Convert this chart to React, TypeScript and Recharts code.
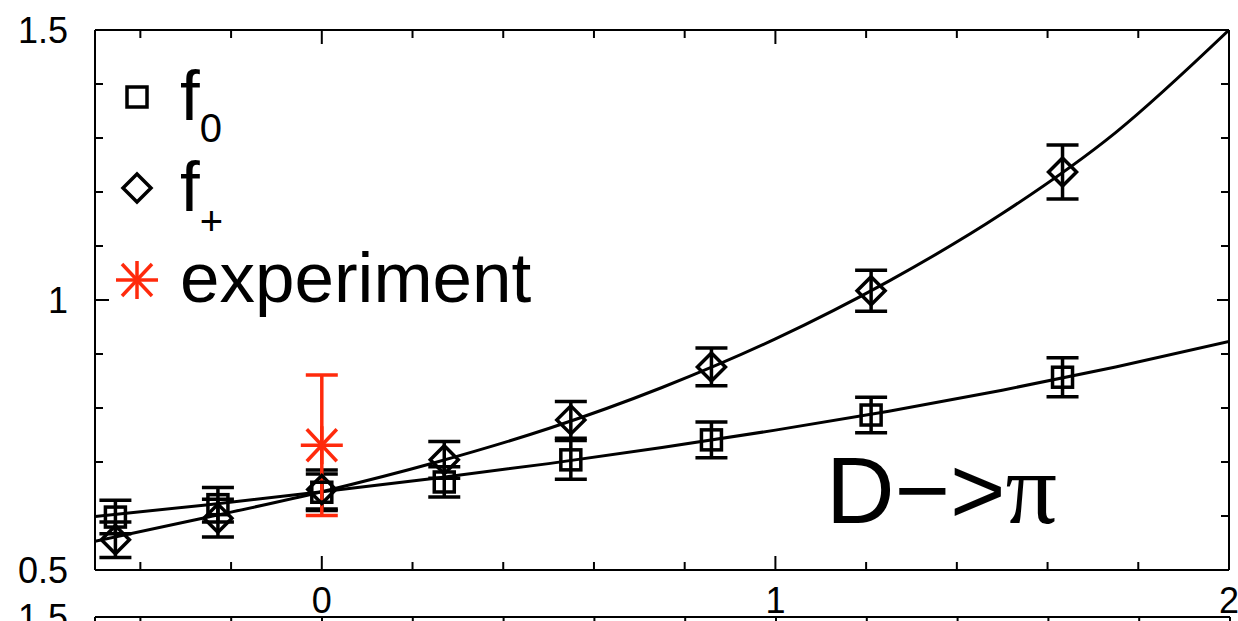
import React from 'react';
import { ComposedChart, Line, Scatter, XAxis, YAxis, ErrorBar, Legend } from 'recharts';

// lattice points (q^2 in GeV^2)
const qSquared = [-0.455, -0.229, 0.0, 0.27, 0.549, 0.859, 1.211, 1.633];
const f0Values = [0.598, 0.621, 0.644, 0.663, 0.704, 0.741, 0.787, 0.857];
const f0Errors = [0.031, 0.032, 0.034, 0.028, 0.036, 0.033, 0.033, 0.036];
const fPlusValues = [0.556, 0.596, 0.649, 0.704, 0.778, 0.876, 1.017, 1.237];
const fPlusErrors = [0.033, 0.035, 0.036, 0.034, 0.034, 0.035, 0.038, 0.05];

// experiment
const expQ = [0.0];
const expValues = [0.731];
const expErrors = [0.13];

// fit curves
const fitQ = [-0.5, -0.25, 0, 0.25, 0.5, 0.75, 1, 1.25, 1.5, 1.75, 2];
const f0Fit = [0.599, 0.621, 0.645, 0.67, 0.697, 0.727, 0.759, 0.794, 0.833, 0.876, 0.923];
const fPlusFit = [0.553, 0.598, 0.645, 0.699, 0.762, 0.838, 0.928, 1.035, 1.16, 1.31, 1.5];

const xTicks = [-0.4, -0.2, 0, 0.2, 0.4, 0.6, 0.8, 1, 1.2, 1.4, 1.6, 1.8, 2];
const xLabelled = [0, 1, 2];
const yTicks = [0.5, 0.6, 0.7, 0.8, 0.9, 1, 1.1, 1.2, 1.3, 1.4, 1.5];
const yLabelled = [0.5, 1, 1.5];
// only the top of the next panel shows in the frame
const nextPanelYTicks = [1.5];

const legendItems = [
  { name: 'f', sub: '0', symbol: 'square' },
  { name: 'f', sub: '+', symbol: 'diamond' },
  { name: 'experiment', sub: '', symbol: 'star' },
];
const annotation = 'D\u2212>';
const annotationEnd = '\u03c0';

const FONT = '"Liberation Sans", Arial, Helvetica, sans-serif';
const RED = '#ff2a0c';
const SW = 3.5;

const f0Data = qSquared.map((q, i) => ({ q, v: f0Values[i], err: f0Errors[i] }));
const fPlusData = qSquared.map((q, i) => ({ q, v: fPlusValues[i], err: fPlusErrors[i] }));
const expData = expQ.map((q, i) => ({ q, v: expValues[i], err: expErrors[i] }));
const f0Curve = fitQ.map((q, i) => ({ q, v: f0Fit[i] }));
const fPlusCurve = fitQ.map((q, i) => ({ q, v: fPlusFit[i] }));

const Square = ({ cx, cy }: any) => (
  <rect x={cx - 10} y={cy - 10} width={20} height={20} fill="none" stroke="#000" strokeWidth={SW} />
);

const Diamond = ({ cx, cy }: any) => (
  <polygon
    points={`${cx},${cy - 14} ${cx + 14},${cy} ${cx},${cy + 14} ${cx - 14},${cy}`}
    fill="none"
    stroke="#000"
    strokeWidth={SW}
  />
);

const Star = ({ cx, cy }: any) => (
  <g stroke={RED} strokeWidth={SW}>
    <line x1={cx - 21} y1={cy} x2={cx + 21} y2={cy} />
    <line x1={cx} y1={cy - 19} x2={cx} y2={cy + 19} />
    <line x1={cx - 15} y1={cy - 16} x2={cx + 15} y2={cy + 16} />
    <line x1={cx - 15} y1={cy + 16} x2={cx + 15} y2={cy - 16} />
  </g>
);

// ticks point into the plot, like the original
const BottomTick = ({ x, y, payload }: any) => {
  const major = xLabelled.includes(payload.value);
  return (
    <g>
      <line x1={x} y1={y} x2={x} y2={y - (major ? 14 : 8)} stroke="#000" strokeWidth={2} />
      {major && (
        <text x={x} y={y + 43} textAnchor="middle" fontSize={36} fontFamily={FONT} fill="#000">
          {payload.value}
        </text>
      )}
    </g>
  );
};

const TopTick = ({ x, y, payload }: any) => {
  const major = xLabelled.includes(payload.value);
  return <line x1={x} y1={y} x2={x} y2={y + (major ? 14 : 8)} stroke="#000" strokeWidth={2} />;
};

const LeftTick = ({ x, y, payload }: any) => {
  const major = yLabelled.includes(payload.value);
  return (
    <g>
      <line x1={x} y1={y} x2={x + (major ? 14 : 8)} y2={y} stroke="#000" strokeWidth={2} />
      {major && (
        <text x={x - 27} y={y + 13} textAnchor="end" fontSize={36} fontFamily={FONT} fill="#000">
          {payload.value}
        </text>
      )}
    </g>
  );
};

const RightTick = ({ x, y, payload }: any) => {
  const major = yLabelled.includes(payload.value);
  return <line x1={x} y1={y} x2={x - (major ? 12 : 8)} y2={y} stroke="#000" strokeWidth={2} />;
};

const LegendBox = () => (
  <svg width={600} height={330} style={{ display: 'block' }}>
    {legendItems.map((item, i) => {
      const cy = [97, 188, 280][i];
      const baseline = [120, 211, 302][i];
      return (
        <g key={i}>
          {item.symbol === 'square' && <Square cx={137} cy={cy} />}
          {item.symbol === 'diamond' && <Diamond cx={137} cy={cy} />}
          {item.symbol === 'star' && <Star cx={137} cy={cy} />}
          <text x={180} y={baseline} fontSize={71} fontFamily={FONT} fill="#000">
            {item.name}
            {item.sub && (
              <tspan fontSize={40} dy={item.sub === '+' ? 24 : 22}>
                {item.sub}
              </tspan>
            )}
          </text>
        </g>
      );
    })}
  </svg>
);

const axisLine = { stroke: '#000', strokeWidth: 2 };

export default function App() {
  return (
    <div
      style={{
        position: 'absolute',
        left: 0,
        top: 0,
        width: 1238,
        height: 621,
        overflow: 'hidden',
        background: '#fff',
      }}
    >
      <ComposedChart width={1238} height={621} margin={{ top: 29, right: 8, bottom: 50, left: 94 }}>
        <XAxis
          dataKey="q"
          type="number"
          domain={[-0.5, 2]}
          allowDataOverflow
          ticks={xTicks}
          interval={0}
          height={1}
          tickSize={0}
          tickMargin={0}
          axisLine={axisLine}
          tick={<BottomTick />}
        />
        <XAxis
          xAxisId="top"
          orientation="top"
          dataKey="q"
          type="number"
          domain={[-0.5, 2]}
          allowDataOverflow
          ticks={xTicks}
          interval={0}
          height={1}
          tickSize={0}
          tickMargin={0}
          axisLine={axisLine}
          tick={<TopTick />}
        />
        <YAxis
          dataKey="v"
          type="number"
          domain={[0.5, 1.5]}
          allowDataOverflow
          ticks={yTicks}
          interval={0}
          width={1}
          tickSize={0}
          tickMargin={0}
          axisLine={axisLine}
          tick={<LeftTick />}
        />
        <YAxis
          yAxisId="right"
          orientation="right"
          dataKey="v"
          type="number"
          domain={[0.5, 1.5]}
          allowDataOverflow
          ticks={yTicks}
          interval={0}
          width={1}
          tickSize={0}
          tickMargin={0}
          axisLine={axisLine}
          tick={<RightTick />}
        />
        <Line
          data={f0Curve}
          dataKey="v"
          type="monotone"
          stroke="#000"
          strokeWidth={3}
          dot={false}
          legendType="none"
          isAnimationActive={false}
        />
        <Line
          data={fPlusCurve}
          dataKey="v"
          type="monotone"
          stroke="#000"
          strokeWidth={3}
          dot={false}
          legendType="none"
          isAnimationActive={false}
        />
        <Scatter name="f0" data={f0Data} dataKey="v" shape={<Square />} isAnimationActive={false}>
          <ErrorBar dataKey="err" direction="y" width={16} stroke="#000" strokeWidth={SW} isAnimationActive={false} />
        </Scatter>
        <Scatter name="f+" data={fPlusData} dataKey="v" shape={<Diamond />} isAnimationActive={false}>
          <ErrorBar dataKey="err" direction="y" width={16} stroke="#000" strokeWidth={SW} isAnimationActive={false} />
        </Scatter>
        <Scatter name="experiment" data={expData} dataKey="v" shape={<Star />} isAnimationActive={false}>
          <ErrorBar dataKey="err" direction="y" width={16} stroke={RED} strokeWidth={SW} isAnimationActive={false} />
        </Scatter>
        <Legend
          layout="vertical"
          align="center"
          verticalAlign="middle"
          wrapperStyle={{ left: 0, top: 0, width: 600, height: 330 }}
          content={<LegendBox />}
        />
        <text x={826} y={523} fontSize={95} fontFamily={FONT} fill="#000">
          {annotation}
          <tspan fontSize={102} fontFamily='"Liberation Serif", "DejaVu Serif", serif'>{annotationEnd}</tspan>
        </text>
      </ComposedChart>

      {/* top edge of the next panel, cut off by the frame */}
      <div style={{ position: 'absolute', left: 0, top: 588 }}>
        <ComposedChart width={1238} height={300} margin={{ top: 28, right: 8, bottom: 30, left: 94 }}>
          <XAxis
            orientation="top"
            dataKey="q"
            type="number"
            domain={[-0.5, 2]}
            allowDataOverflow
            ticks={xTicks}
            interval={0}
            height={1}
            tickSize={0}
            tickMargin={0}
            axisLine={axisLine}
            tick={<TopTick />}
          />
          <YAxis
            dataKey="v"
            type="number"
            domain={[0.5, 1.5]}
            allowDataOverflow
            ticks={nextPanelYTicks}
            interval={0}
            width={1}
            tickSize={0}
            tickMargin={0}
            axisLine={axisLine}
            tick={<LeftTick />}
          />
        </ComposedChart>
      </div>
    </div>
  );
}
